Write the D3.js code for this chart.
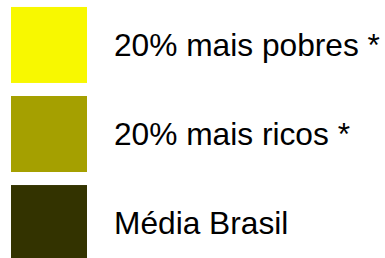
<!DOCTYPE html>
<html lang="en">
<head>
  <meta charset="UTF-8">
  <script src="https://d3js.org/d3.v7.min.js" charset="utf-8"></script>
  <title>Legenda</title>
  <style>
    body { margin: 0; background: #fff; }
  </style>
</head>
<body>
  <script type="text/javascript">
    const w = 385;
    const h = 258;

    // legend entries
    var labels = ["20% mais pobres *", "20% mais ricos *", "Média Brasil"];
    var colors = ["#f8f800", "#a5a000", "#333300"];

    var svg = d3.select("body")
      .append("svg")
      .attr("width", w)
      .attr("height", h);

    var y = d3.scaleBand()
      .domain(labels)
      .range([0, 268])
      .paddingInner(0.15)
      .paddingOuter(0.08);

    var boxSize = 76;

    var items = svg.selectAll("g.item")
      .data(labels)
      .enter()
      .append("g")
      .attr("class", "item")
      .attr("transform", function (d) {
        return "translate(11," + (y(d) + y.bandwidth() / 2) + ")";
      });

    items.append("rect")
      .attr("x", 0)
      .attr("y", -boxSize / 2)
      .attr("width", boxSize)
      .attr("height", boxSize)
      .attr("fill", function (d, i) { return colors[i]; });

    items.append("text")
      .text(function (d) { return d; })
      .attr("x", 103)
      .attr("y", 11)
      .attr("font-family", "Liberation Sans, Arial, sans-serif")
      .attr("font-size", "31.7px")
      .attr("fill", "#000");
  </script>
</body>
</html>
